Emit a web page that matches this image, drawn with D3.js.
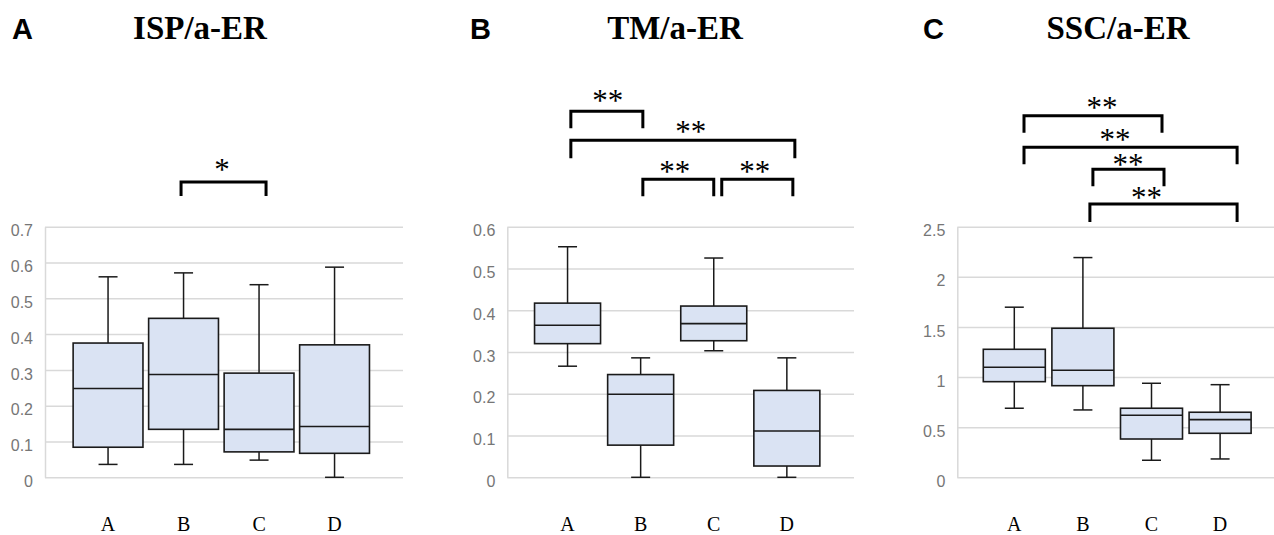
<!DOCTYPE html>
<html>
<head>
<meta charset="utf-8">
<script src="https://cdn.jsdelivr.net/npm/d3@7"></script>
<style>
  body { margin: 0; background: #fff; }
  svg { display: block; }
</style>
</head>
<body>
<div id="chart"></div>
<script>
// groups on the x axis
var categories = ["A", "B", "C", "D"];

// box stats per group: [min, q1, median, q3, max]
var ispBoxes = [
  [0.036, 0.084, 0.248, 0.375, 0.560],
  [0.036, 0.134, 0.287, 0.444, 0.571],
  [0.048, 0.071, 0.134, 0.291, 0.538],
  [0.000, 0.067, 0.142, 0.370, 0.587]
];
var tmBoxes = [
  [0.266, 0.320, 0.364, 0.417, 0.552],
  [0.000, 0.077, 0.199, 0.246, 0.286],
  [0.303, 0.327, 0.368, 0.410, 0.525],
  [0.000, 0.027, 0.111, 0.208, 0.286]
];
var sscBoxes = [
  [0.689, 0.954, 1.098, 1.277, 1.697],
  [0.672, 0.914, 1.068, 1.487, 2.192],
  [0.170, 0.382, 0.619, 0.689, 0.938],
  [0.183, 0.439, 0.575, 0.649, 0.924]
];

// y tick values
var ispTicks = [0, 0.1, 0.2, 0.3, 0.4, 0.5, 0.6, 0.7];
var tmTicks = [0, 0.1, 0.2, 0.3, 0.4, 0.5, 0.6];
var sscTicks = [0, 0.5, 1, 1.5, 2, 2.5];

// significance brackets: [from, to, label]
var ispSig = [["B", "C", "*"]];
var tmSig = [["A", "B", "**"], ["A", "D", "**"], ["B", "C", "**"], ["C", "D", "**"]];
var sscSig = [["A", "C", "**"], ["A", "D", "**"], ["B", "C", "**"], ["B", "D", "**"]];

var titles = ["ISP/a-ER", "TM/a-ER", "SSC/a-ER"];
var letters = ["A", "B", "C"];

var W = 1274, H = 535;

// layout per panel (pixels)
var panels = [
  {boxes: ispBoxes, ticks: ispTicks, sig: ispSig, fmt: function(d){ return d === 0 ? "0" : d.toFixed(1); },
   left: 45, right: 403, band: [70.3, 372.3], pad: 0.075, letterX: 12, titleX: 200,
   // bracket top y, leg height, end nudges, label nudge (ty = gap from bracket to star centre)
   br: [{y: 182, h: 14, dx1: -2.5, dx2: 7, tx: -1.5, ty: 15}]},
  {boxes: tmBoxes, ticks: tmTicks, sig: tmSig, fmt: function(d){ return d === 0 ? "0" : d.toFixed(1); },
   left: 507.3, right: 854, band: [531, 823.4], pad: 0.097, letterX: 470, titleX: 675,
   br: [{y: 111.3, h: 17, dx1: 3.3, dx2: 2.2, tx: 1, ty: 14},
        {y: 140.3, h: 18, dx1: 3.3, dx2: 8, tx: 8, ty: 12},
        {y: 179.3, h: 17, dx1: 2.2, dx2: 0, tx: -3.5, ty: 11},
        {y: 179.3, h: 17, dx1: 8, dx2: 6, tx: -2.5, ty: 11}]},
  {boxes: sscBoxes, ticks: sscTicks, sig: sscSig, fmt: function(d){ return d === 0 || d % 1 === 0 ? String(d) : d.toFixed(1); },
   left: 957.3, right: 1274, band: [980, 1254.4], pad: 0.096, letterX: 923, titleX: 1118,
   br: [{y: 115.7, h: 17, dx1: 9.7, dx2: 10.5, tx: 9, ty: 10.7},
        {y: 147.3, h: 17, dx1: 9.7, dx2: 17, tx: -15.5, ty: 10.6},
        {y: 169.3, h: 17, dx1: 10, dx2: 12.5, tx: -0.5, ty: 8},
        {y: 204, h: 18, dx1: 7, dx2: 17, tx: -17, ty: 9}]}
];

var yTop = 226.7, yBottom = 477.3;
var starSize = 31;

var svg = d3.select("#chart").append("svg")
    .attr("width", W)
    .attr("height", H);

panels.forEach(function(p, pi) {
  var g = svg.append("g");

  var x = d3.scaleBand()
      .domain(categories)
      .range(p.band)
      .paddingInner(p.pad)
      .paddingOuter(p.pad / 2);

  var y = d3.scaleLinear()
      .domain([0, d3.max(p.ticks)])
      .range([yBottom, yTop]);

  //gridlines + labels via axis
  var yAxis = d3.axisLeft(y)
      .tickValues(p.ticks)
      .tickFormat(p.fmt)
      .tickSize(-(p.right - p.left))
      .tickSizeOuter(0)
      .tickPadding(12);

  var ax = g.append("g")
      .attr("transform", "translate(" + p.left + ",0)")
      .call(yAxis);
  ax.select(".domain").attr("stroke", "#d9d9d9").attr("stroke-width", 1.5);
  ax.selectAll(".tick line").attr("stroke", "#d9d9d9").attr("stroke-width", 1.5);
  ax.selectAll(".tick text")
      .attr("fill", "#767676")
      .attr("y", 4)
      .style("font-family", "'Liberation Sans', Arial, sans-serif")
      .style("font-size", "16px");

  var bw = x.bandwidth();
  var cap = 19;

  var box = g.selectAll(".box")
      .data(p.boxes)
      .enter()
      .append("g")
      .attr("class", "box")
      .attr("transform", function(d, i) { return "translate(" + x(categories[i]) + ",0)"; });

  // whiskers
  box.append("line")
      .attr("x1", bw / 2).attr("x2", bw / 2)
      .attr("y1", function(d) { return y(d[4]); })
      .attr("y2", function(d) { return y(d[3]); })
      .attr("stroke", "#1a1a1a").attr("stroke-width", 1.5);
  box.append("line")
      .attr("x1", bw / 2).attr("x2", bw / 2)
      .attr("y1", function(d) { return y(d[1]); })
      .attr("y2", function(d) { return y(d[0]); })
      .attr("stroke", "#1a1a1a").attr("stroke-width", 1.5);
  box.append("line")
      .attr("x1", bw / 2 - cap / 2).attr("x2", bw / 2 + cap / 2)
      .attr("y1", function(d) { return y(d[4]); })
      .attr("y2", function(d) { return y(d[4]); })
      .attr("stroke", "#1a1a1a").attr("stroke-width", 1.5);
  box.append("line")
      .attr("x1", bw / 2 - cap / 2).attr("x2", bw / 2 + cap / 2)
      .attr("y1", function(d) { return y(d[0]); })
      .attr("y2", function(d) { return y(d[0]); })
      .attr("stroke", "#1a1a1a").attr("stroke-width", 1.5);

  // box
  box.append("rect")
      .attr("x", 0)
      .attr("width", bw)
      .attr("y", function(d) { return y(d[3]); })
      .attr("height", function(d) { return y(d[1]) - y(d[3]); })
      .attr("fill", "#dae3f3")
      .attr("stroke", "#1a1a1a")
      .attr("stroke-width", 1.6);

  // median
  box.append("line")
      .attr("x1", 0).attr("x2", bw)
      .attr("y1", function(d) { return y(d[2]); })
      .attr("y2", function(d) { return y(d[2]); })
      .attr("stroke", "#1a1a1a").attr("stroke-width", 1.6);

  // x labels
  g.selectAll(".xlab")
      .data(categories)
      .enter()
      .append("text")
      .attr("x", function(d) { return x(d) + bw / 2; })
      .attr("y", 530.5)
      .attr("text-anchor", "middle")
      .style("font-family", "'Liberation Serif', 'Times New Roman', serif")
      .style("font-size", "20px")
      .text(function(d) { return d; });

  // significance brackets
  p.sig.forEach(function(s, si) {
    var b = p.br[si];
    var x1 = x(s[0]) + bw / 2 + b.dx1,
        x2 = x(s[1]) + bw / 2 + b.dx2;
    g.append("path")
        .attr("d", "M" + x1 + "," + (b.y + b.h) + "V" + b.y + "H" + x2 + "V" + (b.y + b.h))
        .attr("fill", "none")
        .attr("stroke", "#000")
        .attr("stroke-width", 3);
    // asterisk glyph sits ~0.43em above the baseline
    g.append("text")
        .attr("x", (x1 + x2) / 2 + b.tx)
        .attr("y", b.y - b.ty + starSize * 0.43)
        .attr("text-anchor", "middle")
        .style("font-family", "'Liberation Serif', 'Times New Roman', serif")
        .style("font-size", starSize + "px")
        .text(s[2]);
  });

  // panel letter and title
  svg.append("text")
      .attr("x", p.letterX)
      .attr("y", 39)
      .style("font-family", "'Liberation Sans', Arial, sans-serif")
      .style("font-weight", "bold")
      .style("font-size", "29px")
      .text(letters[pi]);

  svg.append("text")
      .attr("x", p.titleX)
      .attr("y", 39)
      .attr("text-anchor", "middle")
      .style("font-family", "'Liberation Serif', 'Times New Roman', serif")
      .style("font-weight", "bold")
      .style("font-size", "33px")
      .text(titles[pi]);
});
</script>
</body>
</html>
